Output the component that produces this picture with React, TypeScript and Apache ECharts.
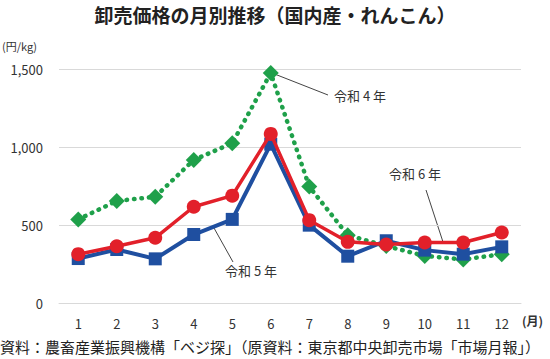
import React, { useEffect, useRef } from "react";
import * as echarts from "echarts";

const months = ["1", "2", "3", "4", "5", "6", "7", "8", "9", "10", "11", "12"];
const reiwa4 = [536, 654, 681, 917, 1024, 1474, 746, 435, 365, 302, 279, 313];
const reiwa5 = [285, 343, 283, 439, 536, 1018, 499, 300, 399, 339, 313, 360];
const reiwa6 = [313, 364, 418, 617, 688, 1084, 531, 392, 375, 388, 388, 452];
const yTicks = [0, 500, 1000, 1500];

const title = "卸売価格の月別推移（国内産・れんこん）";
const unitLabel = "(円/kg)";
const monthUnit = "(月)";
const source = "資料：農畜産業振興機構「ベジ探」（原資料：東京都中央卸売市場「市場月報」）";
const labels = ["令和 4 年", "令和 5 年", "令和 6 年"];

const FONT = "'Noto Sans CJK JP', 'Noto Sans', sans-serif";

export default function App() {
  const ref = useRef<HTMLDivElement>(null);
  useEffect(() => {
    if (!ref.current) return;
    const chart = echarts.init(ref.current, undefined, { renderer: "svg" });
    const textColor = "#333";
    const option: any = {
      animation: false,
      backgroundColor: "#fff",
      textStyle: { fontFamily: FONT },
      grid: { left: 59, right: 29, top: 69, bottom: 56, containLabel: false },
      xAxis: {
        type: "category",
        data: months,
        boundaryGap: true,
        axisLine: { show: true, lineStyle: { color: "#d9d9d9", width: 1 } },
        axisTick: { show: false },
        axisLabel: { color: textColor, fontSize: 13, margin: 14, fontFamily: FONT },
      },
      yAxis: {
        type: "value",
        min: yTicks[0],
        max: yTicks[yTicks.length - 1],
        interval: 500,
        axisLine: { show: false },
        axisTick: { show: false },
        splitLine: { lineStyle: { color: "#d9d9d9", width: 1 } },
        axisLabel: {
          color: textColor,
          fontSize: 13,
          margin: 16,
          fontFamily: FONT,
          formatter: (v: number) => v.toLocaleString("en-US"),
        },
      },
      series: [
        {
          name: labels[0],
          type: "line",
          data: reiwa4,
          z: 2,
          symbol: "diamond",
          symbolSize: 16,
          itemStyle: { color: "#1fa04a" },
          lineStyle: { color: "#1fa04a", width: 4.5, type: [0.5, 7], cap: "round" },
        },
        {
          name: labels[1],
          type: "line",
          data: reiwa5,
          z: 3,
          symbol: "rect",
          symbolSize: 13,
          itemStyle: { color: "#1f4fa0" },
          lineStyle: { color: "#1f4fa0", width: 4 },
        },
        {
          name: labels[2],
          type: "line",
          data: reiwa6,
          z: 4,
          symbol: "circle",
          symbolSize: 14,
          itemStyle: { color: "#e2202a" },
          lineStyle: { color: "#e2202a", width: 3.5 },
        },
      ],
      graphic: [
        {
          type: "text",
          left: "center",
          top: 5,
          style: { text: title, fontSize: 19, fontWeight: "bold", fill: "#222", fontFamily: FONT },
        },
        {
          type: "text",
          left: 2,
          top: 40,
          style: { text: unitLabel, fontSize: 11, fill: "#333", fontFamily: FONT },
        },
        {
          type: "text",
          left: 522,
          top: 314,
          style: { text: monthUnit, fontSize: 12, fontWeight: "bold", fill: "#333", fontFamily: FONT },
        },
        {
          type: "text",
          left: 0,
          top: 339,
          style: { text: source, fontSize: 15, fill: "#222", fontFamily: FONT },
        },
        { type: "line", shape: { x1: 272, y1: 73, x2: 328, y2: 95 }, style: { stroke: "#444", lineWidth: 1 } },
        {
          type: "text",
          left: 334,
          top: 89,
          style: { text: labels[0], fontSize: 13, fill: "#333", fontFamily: FONT },
        },
        { type: "line", shape: { x1: 214, y1: 228, x2: 233, y2: 262 }, style: { stroke: "#444", lineWidth: 1 } },
        {
          type: "text",
          left: 225,
          top: 264,
          style: { text: labels[1], fontSize: 13, fill: "#333", fontFamily: FONT },
        },
        { type: "line", shape: { x1: 426, y1: 190, x2: 443, y2: 242 }, style: { stroke: "#444", lineWidth: 1 } },
        {
          type: "text",
          left: 389,
          top: 167,
          style: { text: labels[2], fontSize: 13, fill: "#333", fontFamily: FONT },
        },
      ],
    };
    chart.setOption(option);
    return () => chart.dispose();
  }, []);
  return <div ref={ref} style={{ width: 550, height: 359, position: "absolute", left: 0, top: 0 }} />;
}
